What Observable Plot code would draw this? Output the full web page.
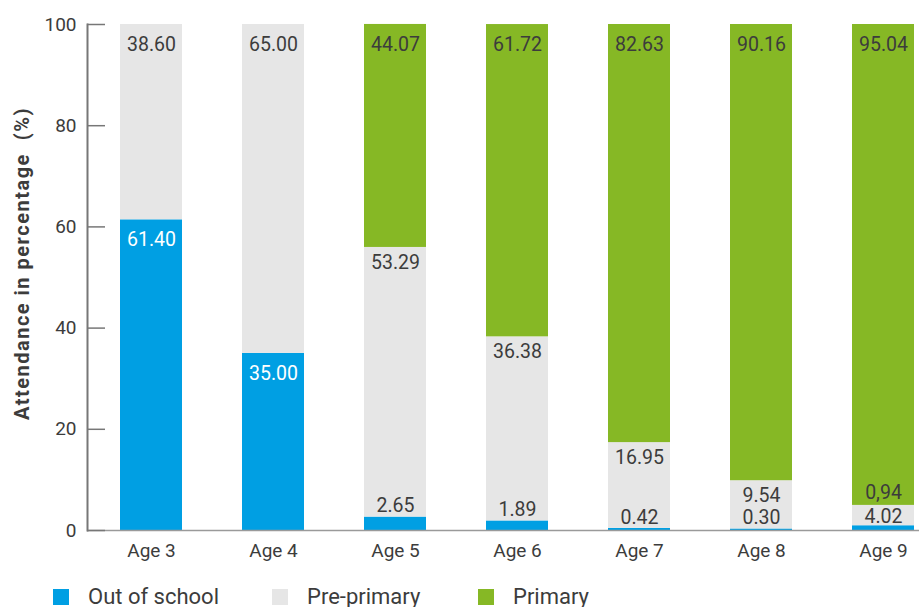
<!DOCTYPE html>
<html>
<head>
<meta charset="utf-8">
<script src="https://cdn.jsdelivr.net/npm/d3@7"></script>
<script src="https://cdn.jsdelivr.net/npm/@observablehq/plot@0.6"></script>
<style>
  html, body { margin: 0; padding: 0; background: white; }
  #wrap { position: relative; width: 919px; height: 607px; overflow: hidden; font-family: Roboto, "Liberation Sans", sans-serif; }
  .lg-sq { position: absolute; width: 16px; height: 16px; top: 589px; }
  .lg-tx { position: absolute; top: 582px; font-size: 22px; color: #3c3c3c; line-height: 30px; white-space: nowrap; }
  .ytitle text { letter-spacing: 1.5px; }
</style>
</head>
<body>
<div id="wrap"></div>
<script>
// ---- data ----
const ages = ["Age 3", "Age 4", "Age 5", "Age 6", "Age 7", "Age 8", "Age 9"];
const series = ["Out of school", "Pre-primary", "Primary"];
const colors = ["#009fe3", "#e6e6e6", "#86b825"];
const outOfSchool = [61.40, 35.00, 2.65, 1.89, 0.42, 0.30, 0.94];
const prePrimary  = [38.60, 65.00, 53.29, 36.38, 16.95, 9.54, 4.02];
const primary     = [0, 0, 44.07, 61.72, 82.63, 90.16, 95.04];
const outLabels   = ["61.40", "35.00", "2.65", "1.89", "0.42", "0.30", "0,94"];
const preLabels   = ["38.60", "65.00", "53.29", "36.38", "16.95", "9.54", "4.02"];
const primLabels  = ["", "", "44.07", "61.72", "82.63", "90.16", "95.04"];
const yTicks = [0, 20, 40, 60, 80, 100];
const yTitle = "Attendance in percentage  (%)";

// ---- tables built from arrays ----
const bars = [];
ages.forEach((age, i) => {
  [outOfSchool[i], prePrimary[i], primary[i]].forEach((v, s) => {
    if (v > 0) bars.push({age, series: series[s], value: v});
  });
});

const insideTop = [], insidePre = [], insideWhite = [], above = [], aboveGray = [], center = [];
ages.forEach((age, i) => {
  const o = outOfSchool[i], p = prePrimary[i], q = primary[i];
  // out of school
  if (o >= 5) insideWhite.push({age, y: o, text: outLabels[i]});
  else if (p < 8) aboveGray.push({age, y: o + p, text: outLabels[i]});
  else above.push({age, y: o, text: outLabels[i]});
  // pre-primary
  if (p < 8) center.push({age, y: o + p / 2, text: preLabels[i]});
  else (q > 0 ? insidePre : insideTop).push({age, y: o + p, text: preLabels[i]});
  // primary
  if (q > 0) insideTop.push({age, y: o + p + q, text: primLabels[i]});
});

const W = 919, H = 575, mL = 87, mR = 0;
const textColor = "#3c3c3c";
const fs = 19.5;

const chart = Plot.plot({
  width: W, height: H,
  marginTop: 24, marginBottom: 45, marginLeft: mL, marginRight: mR,
  style: {fontFamily: "Roboto, 'Liberation Sans', sans-serif", background: "white", color: textColor},
  x: {domain: ages, range: [59, 975], padding: 0.493, label: null},
  y: {domain: [0, 100], label: null},
  color: {domain: series, range: colors},
  marks: [
    Plot.barY(bars, {x: "age", y: "value", fill: "series"}),
    Plot.ruleY([0], {stroke: "#9a9a9a", strokeWidth: 1.5}),
    Plot.frame({anchor: "left", stroke: "#777", strokeWidth: 2}),
    Plot.tickY(yTicks, {y: d => d, insetRight: W - mL - mR - 18, stroke: "#777", strokeWidth: 1.5}),
    Plot.axisY(yTicks, {tickSize: 0, tickPadding: 11, fontSize: 19, fill: textColor, label: null}),
    Plot.axisX({tickSize: 0, tickPadding: 13, fontSize: 19, fill: textColor, label: null}),
    Plot.text([yTitle], {frameAnchor: "left", text: d => d, rotate: -90, textAnchor: "middle", dx: -65, dy: -14, fontSize: 20, fontWeight: "bold", fill: textColor, className: "ytitle"}),
    Plot.text(insideWhite, {x: "age", y: "y", text: "text", dy: 20, fontSize: fs, fill: "white"}),
    Plot.text(insideTop, {x: "age", y: "y", text: "text", dy: 20, fontSize: fs, fill: textColor}),
    Plot.text(insidePre, {x: "age", y: "y", text: "text", dy: 15, fontSize: fs, fill: textColor}),
    Plot.text(above, {x: "age", y: "y", text: "text", dy: -11, fontSize: fs, fill: textColor}),
    Plot.text(aboveGray, {x: "age", y: "y", text: "text", dy: -13, fontSize: fs, fill: textColor}),
    Plot.text(center, {x: "age", y: "y", text: "text", dy: 1, fontSize: fs, fill: textColor})
  ]
});

const wrap = document.getElementById("wrap");
wrap.appendChild(chart);

// legend (below the SVG)
const legendPos = [{sq: 53, tx: 88}, {sq: 272, tx: 307}, {sq: 478, tx: 513}];
series.forEach((s, i) => {
  const sq = document.createElement("div");
  sq.className = "lg-sq";
  sq.style.left = legendPos[i].sq + "px";
  sq.style.background = colors[i];
  wrap.appendChild(sq);
  const tx = document.createElement("div");
  tx.className = "lg-tx";
  tx.style.left = legendPos[i].tx + "px";
  tx.textContent = s;
  wrap.appendChild(tx);
});
</script>
</body>
</html>
